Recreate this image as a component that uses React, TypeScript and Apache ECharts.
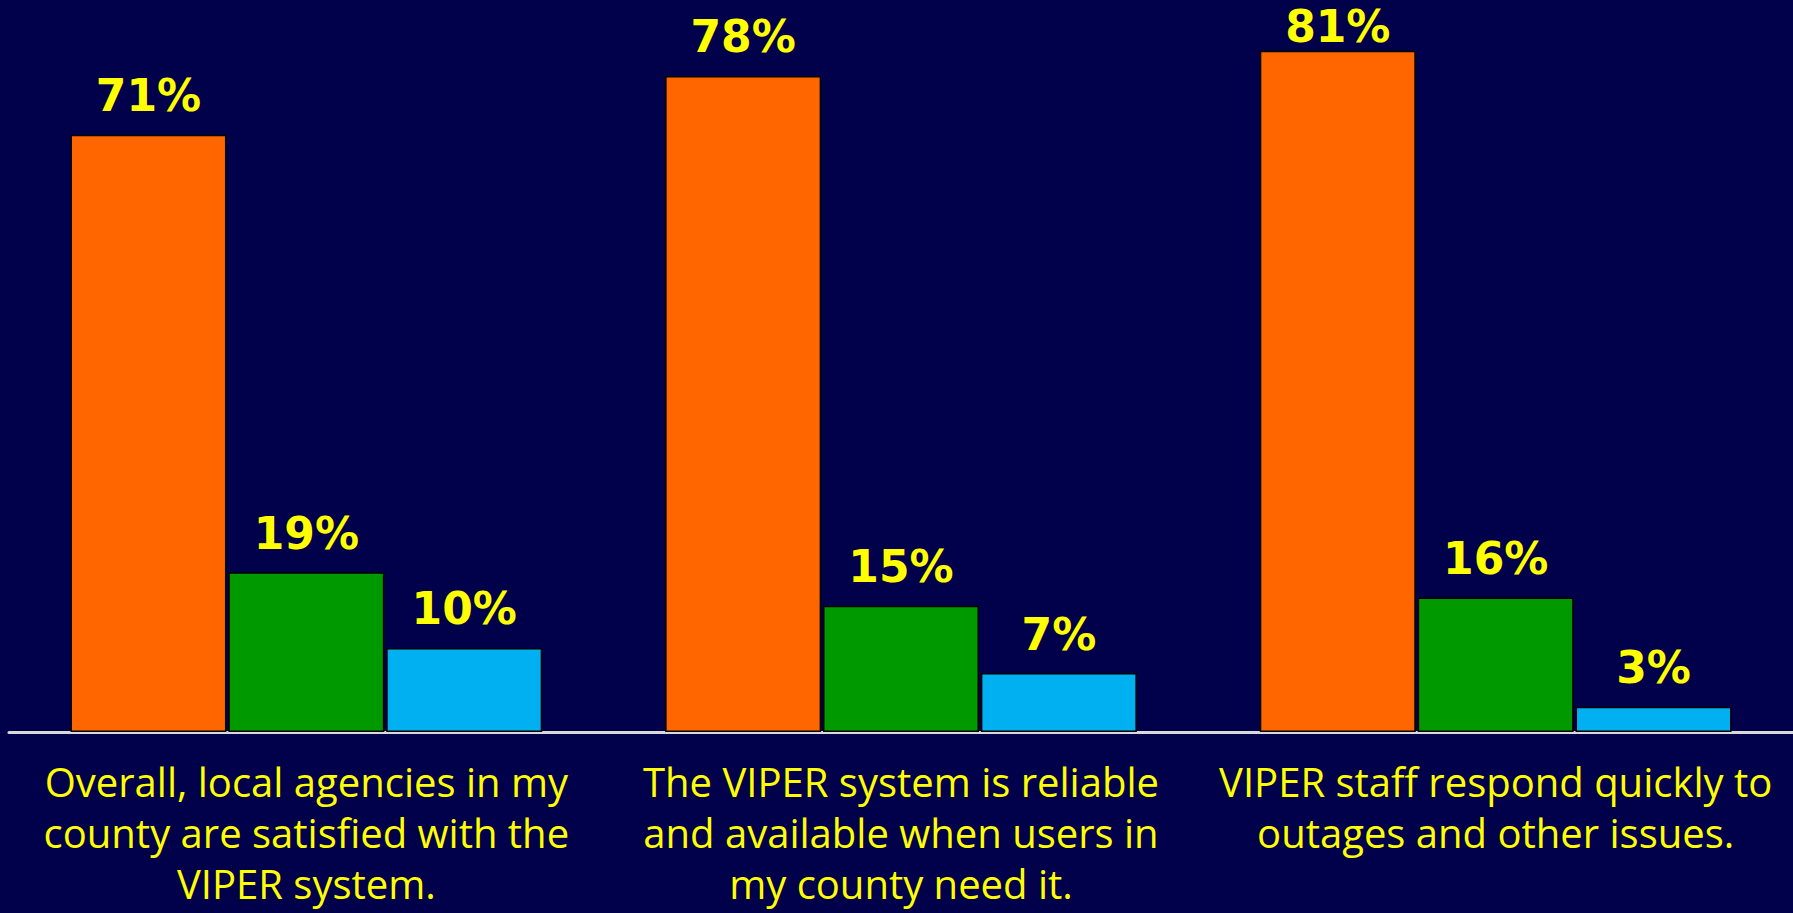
import React, { useEffect, useRef } from "react";
import * as echarts from "echarts";

const categories = [
  "Overall, local agencies in my\ncounty are satisfied with the\nVIPER system.",
  "The VIPER system is reliable\nand available when users in\nmy county need it.",
  "VIPER staff respond quickly to\noutages and other issues.",
];
const seriesNames = ["Agree", "Neutral", "Disagree"];
const agreeValues = [71, 78, 81];
const neutralValues = [19, 15, 16];
const disagreeValues = [10, 7, 3];
const seriesColors = ["#FF6600", "#009900", "#00B0F0"];

const Y_MAX = 85;

export default function App() {
  const ref = useRef<HTMLDivElement>(null);
  useEffect(() => {
    if (!ref.current) return;
    const chart = echarts.init(ref.current, null, { renderer: "svg" });
    const data = [agreeValues, neutralValues, disagreeValues];
    // labels of bars that reach almost the top are pulled closer to the bar
    const labelDistance = (v: number) => (v > Y_MAX - 5 ? 2 : 17);
    chart.setOption({
      animation: false,
      backgroundColor: "#00004B",
      grid: { left: 9, right: 0, top: 17, bottom: 181, containLabel: false },
      xAxis: {
        type: "category",
        data: categories,
        axisLine: { show: true, lineStyle: { color: "#D9D9D9", width: 3 } },
        axisTick: { show: false },
        axisLabel: {
          color: "#FFFF00",
          fontSize: 40,
          fontFamily: "Open Sans",
          lineHeight: 51,
          margin: 24,
          interval: 0,
        },
      },
      yAxis: {
        type: "value",
        min: 0,
        max: Y_MAX,
        show: false,
        splitLine: { show: false },
      },
      series: data.map((vals, i) => ({
        name: seriesNames[i],
        type: "bar",
        data: vals.map((v) => ({ value: v, label: { distance: labelDistance(v) } })),
        barWidth: 156,
        barGap: "1.2%",
        itemStyle: { color: seriesColors[i], borderColor: "#000000", borderWidth: 1.5 },
        label: {
          show: true,
          position: "top",
          color: "#FFFF00",
          fontSize: 44,
          lineHeight: 44,
          fontWeight: "bold",
          fontFamily: "DejaVu Sans",
          formatter: "{c}%",
        },
      })),
    });
    return () => chart.dispose();
  }, []);
  return (
    <div
      ref={ref}
      style={{ position: "fixed", left: 0, top: 0, width: 1793, height: 913 }}
    />
  );
}
